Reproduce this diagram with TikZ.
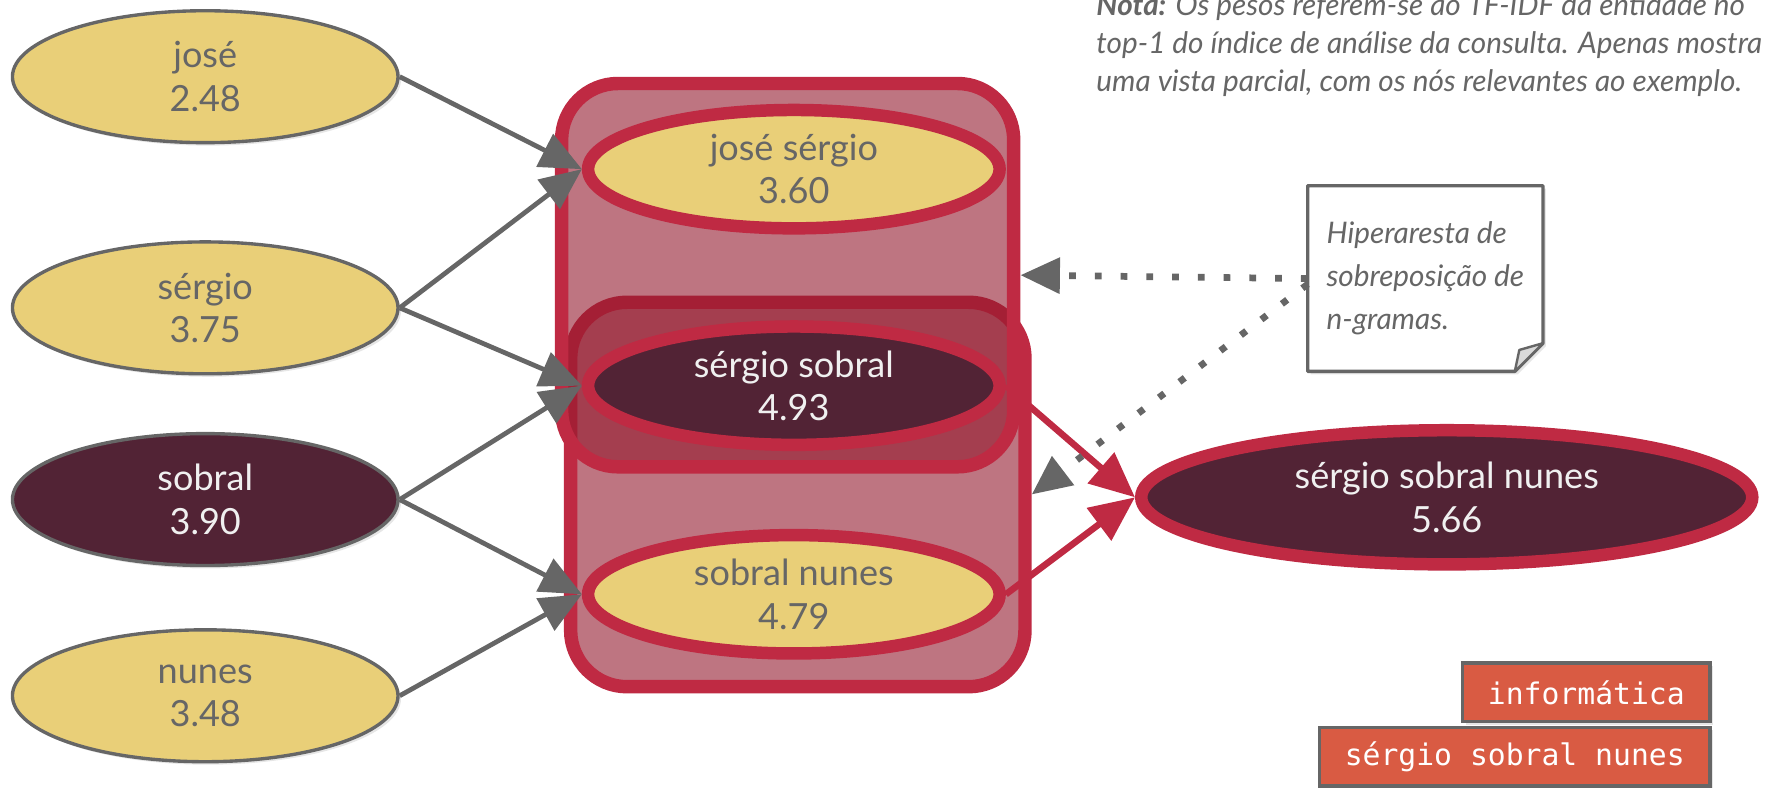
\documentclass[tikz,border=0pt]{standalone}
\usepackage{fontspec}
\setmainfont{Lato}
\setmonofont{DejaVu Sans Mono}
\usetikzlibrary{arrows.meta,shadows,shapes.geometric,backgrounds}
\newcommand{\pixel}{0.02cm}
\newcommand{\nodefont}{\fontsize{18.2}{22}\selectfont}
\newcommand{\notefont}{\fontsize{15}{19.4}\selectfont\itshape}
\definecolor{corn}{RGB}{233,207,120}
\definecolor{wine}{RGB}{82,35,53}
\definecolor{crimson}{RGB}{191,42,67}
\definecolor{hyperfill}{RGB}{147,25,45}
\definecolor{slate}{RGB}{102,102,102}
\definecolor{brick}{RGB}{217,91,67}

\begin{document}
\begin{tikzpicture}[x=\pixel,y=-\pixel,
	softshadow/.style={drop shadow={shadow xshift=1.5pt,shadow yshift=-1.5pt,opacity=0.2}},
	term/.style={ellipse, draw=slate, line width=1.7pt, fill=corn, text=slate, inner sep=0pt,
		minimum width=6.84cm, minimum height=2.34cm, align=center, font=\nodefont, softshadow},
	termdark/.style={term, fill=wine, text=white!94!black},
	gram/.style={ellipse, draw=crimson, line width=6.3pt, fill=corn, text=slate, inner sep=0pt,
		minimum width=7.3cm, minimum height=2.1cm, align=center, font=\nodefont, softshadow},
	gramdark/.style={gram, fill=wine, text=white!94!black},
	edgebox/.style={rectangle, rounded corners=1cm, draw=crimson, line width=6.8pt,
		fill=hyperfill, fill opacity=0.6, inner sep=0pt},
	tag/.style={rectangle, draw=slate, line width=1.7pt, fill=brick, text=white,
		font=\ttfamily\fontsize{15}{18}\selectfont, inner xsep=0.45cm, minimum height=1.04cm,
		anchor=east, softshadow},
	link/.style={draw=slate, line width=2.4pt, -{Triangle[length=0.74cm,width=0.64cm]}},
	hit/.style={draw=crimson, line width=3.3pt, -{Triangle[length=0.8cm,width=0.7cm]}},
	pointer/.style={draw=slate, line width=3.4pt, dash pattern=on 3.4pt off 9.6pt,
		-{Triangle[length=0.7cm,width=0.62cm]}}]
	\useasboundingbox (0,0) rectangle (1567,698);

	\node[term] (jose) at (182,68) {josé\\2.48};
	\node[term] (sergio) at (182,273) {sérgio\\3.75};
	\node[termdark] (sobral) at (182,443) {sobral\\3.90};
	\node[term] (nunes) at (182,617) {nunes\\3.48};

	\node[edgebox, minimum width=8.06cm, minimum height=6.82cm] (edgeB) at (707.5,438.5) {};
	\node[edgebox, minimum width=8.02cm, minimum height=6.8cm] (edgeA) at (698.5,244) {};

	\node[gram] (josser) at (704,150) {josé sérgio\\3.60};
	\node[gramdark] (sersob) at (704,342) {sérgio sobral\\4.93};
	\node[gram] (sobnun) at (704,527) {sobral nunes\\4.79};

	\node[gramdark, minimum width=10.84cm, minimum height=2.38cm] (sersobnun) at (1283,441)
		{sérgio sobral nunes\\5.66};

	\draw[link] (jose.east) -- (josser.west);
	\draw[link] (sergio.east) -- (josser.west);
	\draw[link] (sergio.east) -- (sersob.west);
	\draw[link] (sobral.east) -- (sersob.west);
	\draw[link] (sobral.east) -- (sobnun.west);
	\draw[link] (nunes.east) -- (sobnun.west);

	\draw[hit] (sersob.east) -- (sersobnun.west);
	\draw[hit] (sobnun.east) -- (sersobnun.west);

	\node[rectangle, minimum width=4.16cm, minimum height=3.28cm,
		align=left, text=slate, font=\itshape\fontsize{15}{21.6}\selectfont]
		(callout) at (1264,247) {Hiperaresta de\\sobreposição de\\n-gramas.};
	\begin{scope}[on background layer]
	\fill[white, softshadow] (callout.north west) -- (callout.north east) -- ([yshift=0.5cm]callout.south east)
		-- ([xshift=-0.5cm]callout.south east) -- (callout.south west) -- cycle;
	\end{scope}
	\draw[slate, line width=1.7pt, line join=round] (callout.north west) -- (callout.north east)
		-- ([yshift=0.5cm]callout.south east) -- ([xshift=-0.5cm]callout.south east)
		-- (callout.south west) -- cycle;
	\draw[slate, line width=1.2pt, fill=slate!25, line join=round] ([yshift=0.5cm]callout.south east)
		-- ([xshift=-0.42cm,yshift=0.38cm]callout.south east) -- ([xshift=-0.5cm]callout.south east) -- cycle;

	\draw[pointer] (callout.west) -- (edgeA.east);
	\draw[pointer] ([yshift=-0.1cm]callout.west) -- (edgeB.east);

	\node[anchor=west, align=left, text=slate, font=\notefont, inner sep=0pt] (note) at (972,40)
		{\textbf{Nota:} Os pesos referem-se ao TF-IDF da entidade no\\
		top-1 do índice de análise da consulta. Apenas mostra\\
		uma vista parcial, com os nós relevantes ao exemplo.};

	\node[tag] (domain) at (1518,614) {informática};
	\node[tag] (entity) at (1518,671) {sérgio sobral nunes};
\end{tikzpicture}
\end{document}
